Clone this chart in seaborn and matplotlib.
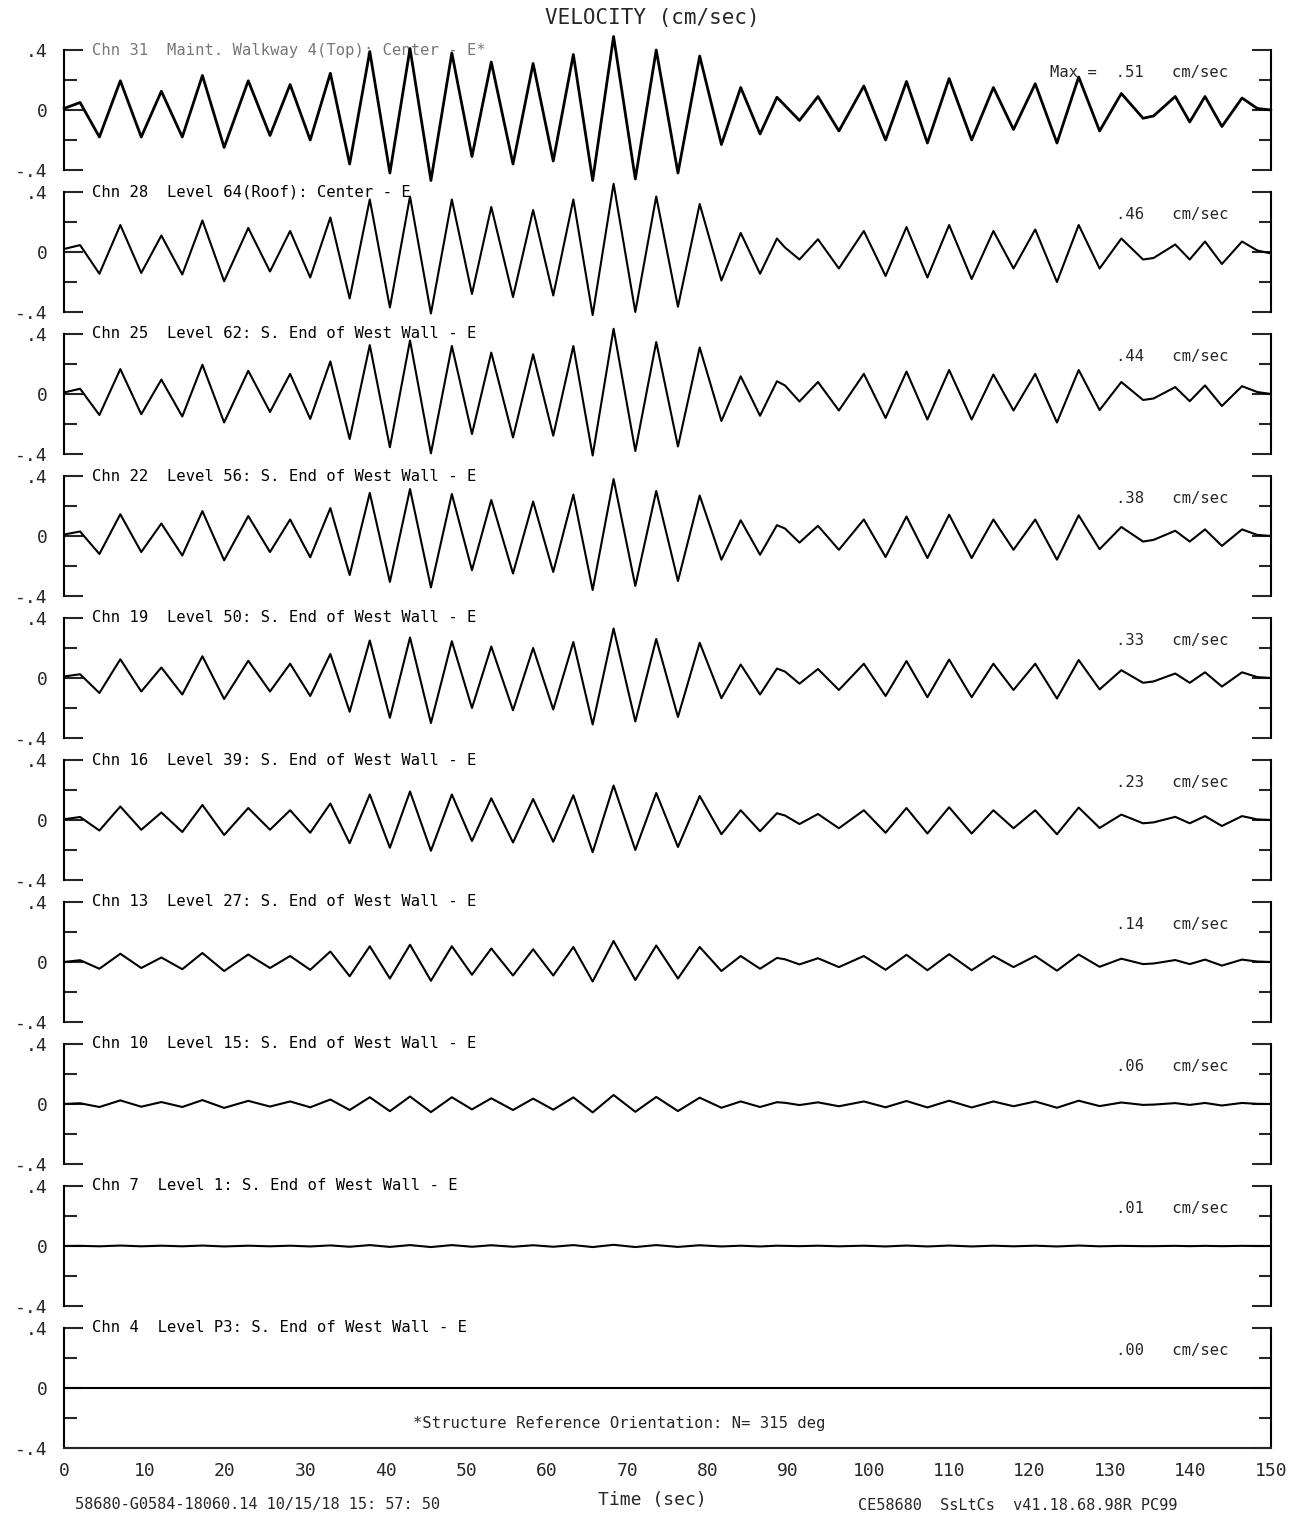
import pandas as pd
import seaborn as sns
import matplotlib.pyplot as plt
from matplotlib.ticker import MultipleLocator

# ============ Data ============
# times (sec) of the peaks / troughs, shared by the building channels
t_ext = [0, 2.0, 4.4, 7.0, 9.6, 12.1, 14.7, 17.2, 19.9, 22.9,
         25.6, 28.1, 30.6, 33.1, 35.5, 38.0, 40.5, 43.0, 45.6, 48.2,
         50.7, 53.1, 55.8, 58.3, 60.8, 63.3, 65.7, 68.3, 71.0, 73.6,
         76.3, 79.0, 81.7, 84.1, 86.5, 88.6, 89.6, 91.4, 93.7, 96.3,
         99.4, 102.1, 104.7, 107.3, 110.0, 112.8, 115.5, 118.0, 120.7, 123.4,
         126.1, 128.7, 131.4, 134.1, 135.4, 138.1, 139.9, 141.8, 143.9, 146.4,
         148.3, 150]

chn31 = [0.01, 0.05, -0.18, 0.195, -0.18, 0.125, -0.18, 0.23, -0.25, 0.195,
         -0.17, 0.17, -0.20, 0.245, -0.36, 0.39, -0.42, 0.41, -0.47, 0.38,
         -0.31, 0.32, -0.36, 0.31, -0.34, 0.37, -0.47, 0.49, -0.46, 0.40,
         -0.42, 0.36, -0.23, 0.15, -0.16, 0.085, 0.03, -0.07, 0.09, -0.14,
         0.16, -0.20, 0.19, -0.22, 0.21, -0.20, 0.15, -0.13, 0.175, -0.22,
         0.22, -0.14, 0.11, -0.055, -0.04, 0.09, -0.08, 0.09, -0.11, 0.08,
         0.01, 0.0]

chn28 = [0.02, 0.046, -0.145, 0.18, -0.14, 0.11, -0.15, 0.21, -0.195, 0.16,
         -0.13, 0.14, -0.17, 0.23, -0.31, 0.35, -0.37, 0.37, -0.41, 0.35,
         -0.28, 0.30, -0.30, 0.28, -0.29, 0.35, -0.42, 0.455, -0.40, 0.37,
         -0.365, 0.32, -0.19, 0.127, -0.145, 0.09, 0.03, -0.05, 0.085, -0.11,
         0.14, -0.16, 0.166, -0.17, 0.18, -0.18, 0.14, -0.11, 0.15, -0.20,
         0.18, -0.11, 0.09, -0.05, -0.04, 0.05, -0.05, 0.07, -0.08, 0.07,
         0.01, -0.01]

chn25 = [0.01, 0.035, -0.14, 0.166, -0.135, 0.096, -0.15, 0.195, -0.19, 0.155,
         -0.12, 0.134, -0.166, 0.217, -0.30, 0.326, -0.355, 0.357, -0.396, 0.32,
         -0.267, 0.276, -0.29, 0.265, -0.278, 0.32, -0.41, 0.435, -0.38, 0.346,
         -0.35, 0.31, -0.18, 0.118, -0.145, 0.085, 0.057, -0.05, 0.08, -0.11,
         0.134, -0.16, 0.15, -0.17, 0.16, -0.17, 0.13, -0.11, 0.134, -0.19,
         0.16, -0.107, 0.08, -0.04, -0.03, 0.046, -0.048, 0.057, -0.08, 0.052,
         0.013, 0.0]

chn22 = [0.01, 0.03, -0.12, 0.145, -0.107, 0.083, -0.13, 0.166, -0.162, 0.133,
         -0.107, 0.11, -0.142, 0.186, -0.26, 0.287, -0.306, 0.313, -0.343, 0.28,
         -0.228, 0.24, -0.25, 0.23, -0.24, 0.276, -0.36, 0.38, -0.333, 0.30,
         -0.30, 0.27, -0.158, 0.105, -0.125, 0.072, 0.05, -0.044, 0.068, -0.092,
         0.11, -0.14, 0.13, -0.147, 0.142, -0.147, 0.11, -0.092, 0.11, -0.158,
         0.138, -0.088, 0.06, -0.037, -0.026, 0.035, -0.037, 0.044, -0.066, 0.044,
         0.007, 0.0]

chn19 = [0.01, 0.025, -0.10, 0.125, -0.09, 0.07, -0.11, 0.145, -0.14, 0.115,
         -0.09, 0.095, -0.12, 0.16, -0.225, 0.25, -0.265, 0.27, -0.30, 0.245,
         -0.20, 0.21, -0.215, 0.20, -0.21, 0.24, -0.31, 0.33, -0.29, 0.26,
         -0.26, 0.235, -0.135, 0.09, -0.11, 0.063, 0.043, -0.038, 0.06, -0.08,
         0.095, -0.12, 0.113, -0.128, 0.123, -0.128, 0.095, -0.08, 0.095, -0.137,
         0.12, -0.076, 0.052, -0.032, -0.023, 0.03, -0.032, 0.038, -0.057, 0.038,
         0.006, 0.0]

chn16 = [0.005, 0.02, -0.07, 0.09, -0.065, 0.05, -0.08, 0.10, -0.10, 0.08,
         -0.065, 0.065, -0.085, 0.11, -0.155, 0.17, -0.185, 0.19, -0.205, 0.17,
         -0.14, 0.145, -0.15, 0.14, -0.145, 0.165, -0.215, 0.23, -0.20, 0.18,
         -0.18, 0.16, -0.095, 0.065, -0.075, 0.045, 0.03, -0.027, 0.04, -0.055,
         0.065, -0.085, 0.08, -0.09, 0.085, -0.09, 0.065, -0.055, 0.065, -0.095,
         0.083, -0.053, 0.036, -0.022, -0.016, 0.021, -0.022, 0.026, -0.04, 0.026,
         0.004, 0.0]

chn13 = [0.0, 0.012, -0.045, 0.055, -0.04, 0.03, -0.048, 0.06, -0.06, 0.05,
         -0.04, 0.04, -0.052, 0.07, -0.095, 0.105, -0.11, 0.115, -0.125, 0.105,
         -0.085, 0.09, -0.09, 0.085, -0.09, 0.10, -0.13, 0.14, -0.12, 0.11,
         -0.11, 0.10, -0.06, 0.04, -0.045, 0.027, 0.018, -0.016, 0.025, -0.034,
         0.04, -0.052, 0.048, -0.055, 0.052, -0.055, 0.04, -0.034, 0.04, -0.058,
         0.05, -0.032, 0.022, -0.014, -0.01, 0.013, -0.014, 0.016, -0.024, 0.016,
         0.003, 0.0]

chn10 = [0.0, 0.005, -0.02, 0.024, -0.018, 0.013, -0.02, 0.026, -0.026, 0.021,
         -0.017, 0.017, -0.022, 0.03, -0.04, 0.045, -0.048, 0.05, -0.054, 0.045,
         -0.036, 0.038, -0.04, 0.036, -0.038, 0.044, -0.056, 0.06, -0.052, 0.047,
         -0.047, 0.042, -0.025, 0.017, -0.02, 0.012, 0.008, -0.007, 0.011, -0.015,
         0.017, -0.022, 0.02, -0.023, 0.022, -0.023, 0.017, -0.015, 0.017, -0.025,
         0.022, -0.014, 0.01, -0.006, -0.004, 0.006, -0.006, 0.007, -0.01, 0.007,
         0.001, 0.0]

chn7 = [0.0, 0.001, -0.002, 0.003, -0.002, 0.002, -0.002, 0.003, -0.003, 0.002,
        -0.002, 0.002, -0.003, 0.004, -0.005, 0.006, -0.006, 0.006, -0.007, 0.006,
        -0.005, 0.005, -0.005, 0.005, -0.005, 0.006, -0.007, 0.008, -0.007, 0.006,
        -0.006, 0.005, -0.003, 0.002, -0.003, 0.002, 0.001, -0.001, 0.002, -0.002,
        0.002, -0.003, 0.003, -0.003, 0.003, -0.003, 0.002, -0.002, 0.002, -0.003,
        0.003, -0.002, 0.001, -0.001, -0.001, 0.001, -0.001, 0.001, -0.001, 0.001,
        0.0, 0.0]

t_flat = [0, 150]
chn4 = [0.0, 0.0]

channel_labels = [
    "Chn 31  Maint. Walkway 4(Top): Center - E*",
    "Chn 28  Level 64(Roof): Center - E",
    "Chn 25  Level 62: S. End of West Wall - E",
    "Chn 22  Level 56: S. End of West Wall - E",
    "Chn 19  Level 50: S. End of West Wall - E",
    "Chn 16  Level 39: S. End of West Wall - E",
    "Chn 13  Level 27: S. End of West Wall - E",
    "Chn 10  Level 15: S. End of West Wall - E",
    "Chn 7  Level 1: S. End of West Wall - E",
    "Chn 4  Level P3: S. End of West Wall - E",
]
max_labels = ["Max =  .51   cm/sec", ".46   cm/sec", ".44   cm/sec", ".38   cm/sec",
              ".33   cm/sec", ".23   cm/sec", ".14   cm/sec", ".06   cm/sec",
              ".01   cm/sec", ".00   cm/sec"]

traces = [(t_ext, chn31), (t_ext, chn28), (t_ext, chn25), (t_ext, chn22),
          (t_ext, chn19), (t_ext, chn16), (t_ext, chn13), (t_ext, chn10),
          (t_ext, chn7), (t_flat, chn4)]

# ============ Style ============
sns.set_style("white")
plt.rcParams['font.family'] = ['DejaVu Sans Mono']

W, H = 1294, 1519
fig = plt.figure(figsize=(W / 100, H / 100), dpi=100)
fig.patch.set_facecolor("white")

x_left, x_right = 64, 1271
n = len(traces)
for i, ((tt, vv), lab, mx) in enumerate(zip(traces, channel_labels, max_labels)):
    top = 50 + 142 * i
    ax = fig.add_axes([x_left / W, 1 - (top + 120) / H, (x_right - x_left) / W, 120 / H])
    df = pd.DataFrame({"t": tt, "v": vv})
    sns.lineplot(data=df, x="t", y="v", ax=ax, color="black",
                 linewidth=2.0 if i == 0 else 1.5, clip_on=False)
    ax.set_xlim(0, 150)
    ax.set_ylim(-0.4, 0.4)
    ax.set_xlabel("")
    ax.set_ylabel("")
    ax.patch.set_alpha(0)

    for s in ["left", "right"]:
        ax.spines[s].set_linewidth(1.5)
        ax.spines[s].set_color("black")
    ax.spines["top"].set_visible(False)
    ax.spines["bottom"].set_visible(i == n - 1)
    ax.spines["bottom"].set_linewidth(1.5)

    ax.set_yticks([-0.4, 0, 0.4])
    ax.set_yticklabels(["-.4", "0", ".4"])
    ax.yaxis.set_minor_locator(MultipleLocator(0.2))
    ax.tick_params(axis="y", which="major", direction="in", length=14, width=1.5,
                   left=True, right=True, labelsize=13, pad=12)
    ax.tick_params(axis="y", which="minor", direction="in", length=9, width=1.5,
                   left=True, right=True)

    if i == n - 1:
        ax.set_xticks(range(0, 151, 10))
        ax.xaxis.set_minor_locator(MultipleLocator(2))
        ax.tick_params(axis="x", which="major", direction="in", length=7, width=1.2,
                       labelsize=13, pad=10)
        ax.tick_params(axis="x", which="minor", direction="in", length=3.5, width=1.2)
        ax.text(0.289, -0.236, "*Structure Reference Orientation: N= 315 deg",
                transform=ax.get_yaxis_transform(), ha="left", va="center", fontsize=11.2)
    else:
        ax.tick_params(axis="x", which="both", bottom=False, labelbottom=False)

    ax.text(0.0232, 0.4, lab, transform=ax.get_yaxis_transform(), ha="left", va="center",
            fontsize=11.2, color="#777777" if i == 0 else "black", zorder=1)
    ax.text(0.9644, 0.25, mx, transform=ax.get_yaxis_transform(), ha="right", va="center",
            fontsize=11.2)

# ============ Title and footers ============
fig.text(652 / W, 1 - 18 / H, "VELOCITY (cm/sec)", ha="center", va="center", fontsize=15)
fig.text(652 / W, 1 - 1500 / H, "Time (sec)", ha="center", va="center", fontsize=13)
fig.text(75 / W, 1 - 1505 / H, "58680-G0584-18060.14 10/15/18 15: 57: 50",
         ha="left", va="center", fontsize=11)
fig.text(858 / W, 1 - 1505 / H, "CE58680  SsLtCs  v41.18.68.98R PC99",
         ha="left", va="center", fontsize=11)

fig.savefig("out.png", dpi=100)
